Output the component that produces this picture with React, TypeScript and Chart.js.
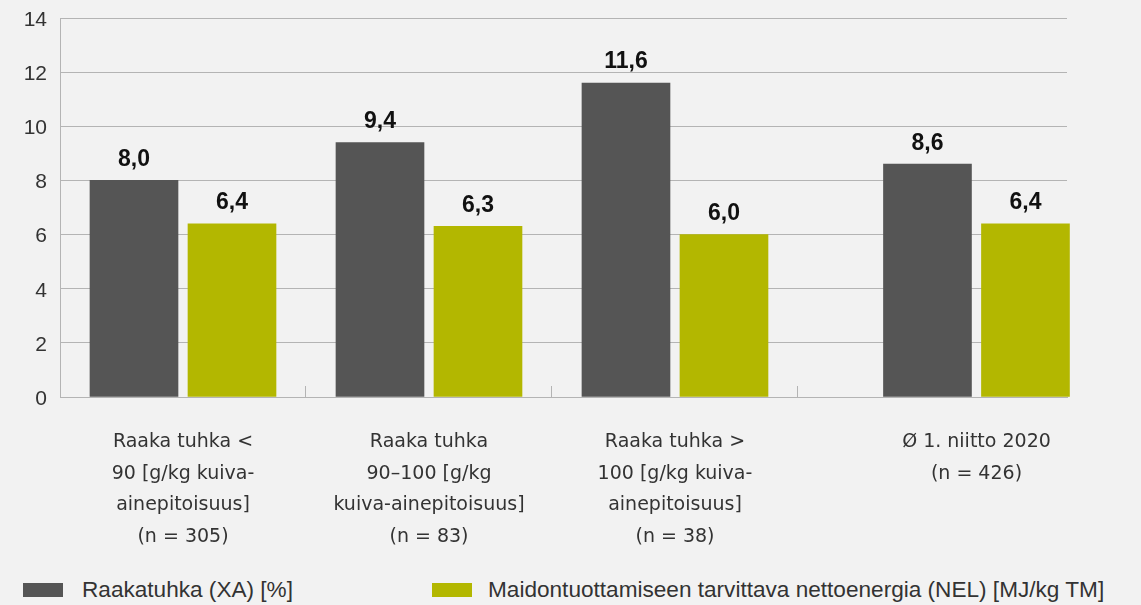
import React, { useEffect, useRef } from "react";
import { Chart, registerables } from "chart.js";

Chart.register(...registerables);

// ---- data ----
const categoryLabels: string[][] = [
  ["Raaka tuhka <", "90 [g/kg kuiva-", "ainepitoisuus]", "(n = 305)"],
  ["Raaka tuhka", "90–100 [g/kg", "kuiva-ainepitoisuus]", "(n = 83)"],
  ["Raaka tuhka >", "100 [g/kg kuiva-", "ainepitoisuus]", "(n = 38)"],
  ["Ø 1. niitto 2020", "(n = 426)"],
];
const ashValues = [8.0, 9.4, 11.6, 8.6];
const nelValues = [6.4, 6.3, 6.0, 6.4];
const seriesNames = [
  "Raakatuhka (XA) [%]",
  "Maidontuottamiseen tarvittava nettoenergia (NEL) [MJ/kg TM]",
];
const seriesColors = ["#555555", "#b3b700"];
const yMin = 0;
const yMax = 14;
const yStep = 2;

// ---- layout constants ----
const LAST_GROUP_GAP = 0.2256; // extra space before the last (average) group, in group units
const RIGHT_EXTRA = 0.368;
const groupPos = (i: number) => i + (i === categoryLabels.length - 1 ? LAST_GROUP_GAP : 0);
const xMin = -0.5;
const xMax = groupPos(categoryLabels.length - 1) + RIGHT_EXTRA;

const GRID = "#b4b4b4";
const TEXT = "#333333";

const valueLabelPlugin = {
  id: "valueLabels",
  afterDatasetsDraw(chart: any) {
    const ctx = chart.ctx;
    ctx.save();
    ctx.font = '700 23px "Liberation Sans", Arial, sans-serif';
    ctx.fillStyle = "#111111";
    ctx.textAlign = "center";
    ctx.textBaseline = "middle";
    chart.data.datasets.forEach((ds: any, di: number) => {
      const meta = chart.getDatasetMeta(di);
      meta.data.forEach((el: any, i: number) => {
        const v = ds.data[i].y as number;
        ctx.fillText(v.toFixed(1).replace(".", ","), el.x, el.y - 21);
      });
    });
    ctx.restore();
  },
};

export default function App() {
  const canvasRef = useRef<HTMLCanvasElement | null>(null);

  useEffect(() => {
    document.body.style.margin = "0";
    document.body.style.background = "#f2f2f2";
    const canvas = canvasRef.current;
    if (!canvas) return;
    const values = [ashValues, nelValues];
    const chart = new Chart(canvas, {
      type: "bar",
      data: {
        datasets: values.map((vals, si) => ({
          label: seriesNames[si],
          data: vals.map((v, i) => ({ x: groupPos(i), y: v })),
          backgroundColor: seriesColors[si],
          barThickness: 98,
          maxBarThickness: 88,
          clip: false as any,
          xAxisID: "x",
          yAxisID: "y",
        })),
      },
      options: {
        responsive: false,
        animation: false,
        events: [],
        layout: { padding: { top: 18, right: 74, left: 0, bottom: 0 } },
        plugins: {
          legend: { display: false },
          tooltip: { enabled: false },
        },
        scales: {
          x: {
            type: "linear",
            position: "bottom",
            min: xMin,
            max: xMax,
            offset: false,
            weight: 0,
            grid: {
              display: true,
              offset: false,
              drawOnChartArea: false,
              drawTicks: true,
              tickLength: -11,
              color: GRID,
              tickColor: GRID,
            },
            border: { display: true, color: GRID, width: 1 },
            ticks: { display: false },
            afterBuildTicks: (scale: any) => {
              scale.ticks = categoryLabels.slice(0, -1).map((_, i) => ({ value: i + 0.5 }));
            },
            afterFit: (scale: any) => {
              scale.height = 0;
            },
          },
          xLabels: {
            type: "linear",
            axis: "x",
            position: "bottom",
            min: xMin,
            max: xMax,
            offset: false,
            weight: 1,
            grid: { display: false, offset: false, drawTicks: false },
            border: { display: false },
            ticks: {
              autoSkip: false,
              maxRotation: 0,
              minRotation: 0,
              padding: 29,
              color: TEXT,
              font: { family: '"DejaVu Sans", sans-serif', size: 19, lineHeight: 1.67 },
              callback: (_v: any, i: number) => categoryLabels[i],
            },
            afterBuildTicks: (scale: any) => {
              scale.ticks = categoryLabels.map((_, i) => ({ value: groupPos(i) }));
            },
            afterFit: (scale: any) => {
              scale.height = 173;
            },
          },
          y: {
            type: "linear",
            min: yMin,
            max: yMax,
            grid: { color: GRID, drawTicks: false, lineWidth: 1 },
            border: { display: true, color: GRID, width: 1 },
            ticks: {
              stepSize: yStep,
              padding: 13,
              labelOffset: 2,
              color: TEXT,
              font: { family: '"Liberation Sans", Arial, sans-serif', size: 21 },
            },
            afterFit: (scale: any) => {
              scale.width = 60;
              scale.paddingTop = 0;
              scale.paddingBottom = 0;
            },
          },
        } as any,
      },
      plugins: [valueLabelPlugin],
    });
    return () => chart.destroy();
  }, []);

  const legendBoxLefts = [23, 432];
  const legendTextLefts = [82, 488];

  return (
    <div
      style={{
        position: "relative",
        width: 1141,
        height: 605,
        background: "#f2f2f2",
        overflow: "hidden",
      }}
    >
      <canvas
        ref={canvasRef}
        width={1141}
        height={570}
        style={{ position: "absolute", left: 0, top: 0, width: 1141, height: 570 }}
      />
      {seriesNames.map((name, i) => (
        <React.Fragment key={name}>
          <div
            style={{
              position: "absolute",
              left: legendBoxLefts[i],
              top: 583,
              width: 40,
              height: 14,
              background: seriesColors[i],
            }}
          />
          <div
            style={{
              position: "absolute",
              left: legendTextLefts[i],
              top: 576,
              height: 28,
              lineHeight: "28px",
              fontFamily: '"Liberation Sans", Arial, sans-serif',
              fontSize: 22.6,
              color: TEXT,
              whiteSpace: "nowrap",
            }}
          >
            {name}
          </div>
        </React.Fragment>
      ))}
    </div>
  );
}
